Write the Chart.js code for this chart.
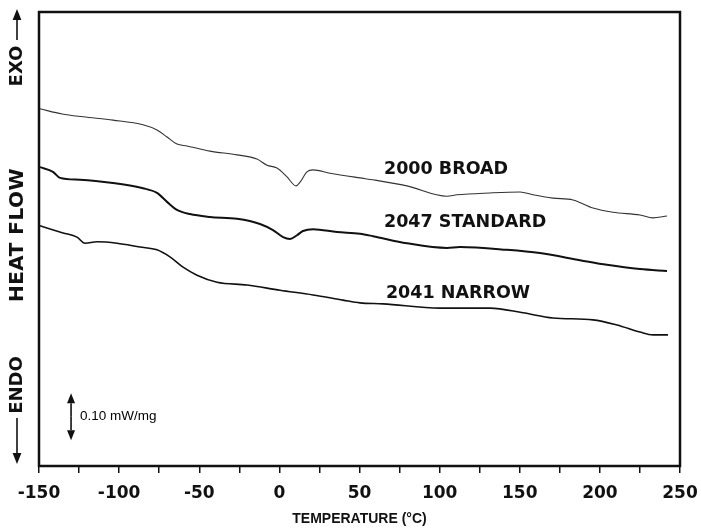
<!DOCTYPE html>
<html>
<head>
<meta charset="utf-8">
<script src="https://cdn.jsdelivr.net/npm/chart.js@4"></script>
<style>
  html, body { margin: 0; padding: 0; background: #fff; }
  canvas { display: block; }
</style>
</head>
<body>
<canvas id="dsc" width="701" height="529"></canvas>
<script>
// DSC traces: temperature in °C, heat flow in mW/mg (baseline offset arbitrary)
const broadT = [-149.4, -135.6, -122.5, -103.8, -85.1, -76.4, -70.1, -63.9, -57.6, -43.3, -26.4, -14.0, -7.7, -1.5, 4.8, 10.4, 12.9, 17.2, 21.0, 31.6, 50.3, 58.4, 79.6, 104.6, 110.8, 131.4, 150.2, 158.3, 170.7, 183.2, 195.7, 208.2, 225.0, 233.1, 241.9];
const broadQ = [0.760, 0.749, 0.743, 0.736, 0.726, 0.715, 0.700, 0.685, 0.681, 0.670, 0.662, 0.653, 0.640, 0.634, 0.615, 0.596, 0.604, 0.626, 0.630, 0.623, 0.613, 0.609, 0.596, 0.574, 0.577, 0.581, 0.583, 0.577, 0.570, 0.566, 0.549, 0.540, 0.534, 0.528, 0.532];

const standardT = [-149.4, -141.3, -136.9, -124.4, -103.8, -85.1, -76.4, -70.1, -63.9, -55.8, -43.3, -26.4, -12.1, -4.0, 2.3, 6.6, 11.0, 14.7, 21.0, 36.0, 50.3, 58.4, 79.6, 104.6, 112.7, 142.0, 162.6, 187.6, 204.4, 225.0, 241.9];
const standardQ = [0.636, 0.626, 0.613, 0.609, 0.602, 0.591, 0.581, 0.562, 0.545, 0.536, 0.530, 0.526, 0.515, 0.502, 0.487, 0.483, 0.491, 0.500, 0.504, 0.498, 0.494, 0.489, 0.474, 0.464, 0.466, 0.460, 0.453, 0.438, 0.428, 0.419, 0.415];

const narrowT = [-149.4, -135.0, -126.3, -121.3, -113.8, -101.3, -87.0, -76.4, -68.3, -60.1, -51.4, -38.9, -20.2, 0.4, 21.0, 39.7, 50.3, 64.7, 100.2, 131.4, 152.0, 170.7, 195.7, 210.7, 225.0, 233.1, 242.5];
const narrowQ = [0.511, 0.496, 0.487, 0.474, 0.477, 0.474, 0.466, 0.460, 0.445, 0.423, 0.406, 0.391, 0.385, 0.374, 0.364, 0.353, 0.347, 0.345, 0.336, 0.336, 0.326, 0.315, 0.311, 0.300, 0.285, 0.279, 0.279];

const seriesNames = ["2000 BROAD", "2047 STANDARD", "2041 NARROW"];
const labelT = [65.3, 65.3, 66.5];
const labelQ = [0.632, 0.519, 0.368];

const tempMin = -150;
const tempMax = 250;
const tempStep = 25;
const tempLabelStep = 50;

// scale bar for 0.10 mW/mg
const barT = -130;
const barQ = [0.055, 0.155];
const barText = "0.10 mW/mg";

const INK = "#111";

function pts(xs, ys) {
  return xs.map((x, i) => ({ x: x, y: ys[i] }));
}

function arrow(ctx, x, yFrom, yTo, head) {
  const dir = yTo > yFrom ? 1 : -1;
  ctx.beginPath();
  ctx.moveTo(x, yFrom);
  ctx.lineTo(x, yTo - dir * head);
  ctx.stroke();
  ctx.beginPath();
  ctx.moveTo(x, yTo);
  ctx.lineTo(x - head * 0.4, yTo - dir * head);
  ctx.lineTo(x + head * 0.4, yTo - dir * head);
  ctx.closePath();
  ctx.fill();
}

function vtext(ctx, text, x, cy) {
  ctx.save();
  ctx.translate(x, cy);
  ctx.rotate(-Math.PI / 2);
  ctx.textAlign = "center";
  ctx.textBaseline = "middle";
  ctx.fillText(text, 0, 0);
  ctx.restore();
}

const decorations = {
  id: "decorations",
  afterDatasetsDraw(chart) {
    const { ctx, chartArea: a, scales: { x, y } } = chart;
    ctx.save();
    ctx.strokeStyle = INK;
    ctx.fillStyle = INK;

    // frame
    ctx.lineWidth = 2.5;
    ctx.strokeRect(a.left, a.top, a.right - a.left, a.bottom - a.top);

    // curve names
    ctx.font = 'bold 17.5px "DejaVu Sans"';
    ctx.textAlign = "left";
    ctx.textBaseline = "middle";
    seriesNames.forEach((name, i) => {
      ctx.fillText(name, x.getPixelForValue(labelT[i]), y.getPixelForValue(labelQ[i]));
    });

    // scale bar
    const bx = x.getPixelForValue(barT);
    const b0 = y.getPixelForValue(barQ[0]);
    const b1 = y.getPixelForValue(barQ[1]);
    const mid = (b0 + b1) / 2;
    ctx.lineWidth = 1.6;
    arrow(ctx, bx, mid, b1, 10);
    arrow(ctx, bx, mid, b0, 10);
    ctx.fillStyle = "#000";
    ctx.font = '13.5px "Liberation Sans"';
    ctx.textBaseline = "middle";
    ctx.fillText(barText, bx + 9, mid);
    ctx.fillStyle = INK;

    // vertical axis caption with EXO / ENDO arrows
    const cx = 17;
    ctx.font = 'bold 18px "DejaVu Sans"';
    vtext(ctx, "EXO", cx, 66);
    vtext(ctx, "ENDO", cx, 385);
    ctx.letterSpacing = "0.5px";
    ctx.font = 'bold 20px "DejaVu Sans"';
    vtext(ctx, "HEAT FLOW", cx + 1, 235);
    ctx.letterSpacing = "0px";
    ctx.lineWidth = 1.6;
    arrow(ctx, cx, 40, 9, 11);
    arrow(ctx, cx, 418, 464, 11);

    ctx.restore();
  }
};

new Chart(document.getElementById("dsc"), {
  type: "line",
  data: {
    datasets: [
      { label: seriesNames[0], data: pts(broadT, broadQ), borderColor: "#333", borderWidth: 1.1 },
      { label: seriesNames[1], data: pts(standardT, standardQ), borderColor: INK, borderWidth: 2 },
      { label: seriesNames[2], data: pts(narrowT, narrowQ), borderColor: INK, borderWidth: 1.6 }
    ]
  },
  plugins: [decorations],
  options: {
    responsive: false,
    animation: false,
    events: [],
    parsing: false,
    elements: {
      point: { radius: 0 },
      line: { cubicInterpolationMode: "monotone", fill: false }
    },
    layout: { padding: { left: 39, right: 21, top: 12, bottom: 0 } },
    plugins: {
      legend: { display: false },
      tooltip: { enabled: false }
    },
    scales: {
      x: {
        type: "linear",
        min: tempMin,
        max: tempMax,
        border: { display: false },
        grid: {
          drawOnChartArea: false,
          drawTicks: true,
          tickLength: 7,
          color: INK,
          lineWidth: 1.5
        },
        ticks: {
          stepSize: tempStep,
          autoSkip: false,
          maxRotation: 0,
          padding: 10,
          color: INK,
          font: { family: "DejaVu Sans", weight: "bold", size: 17 },
          callback: (v) => (v % tempLabelStep === 0 ? String(v) : "")
        },
        title: {
          display: true,
          text: "TEMPERATURE (°C)",
          color: INK,
          font: { family: "Liberation Sans", weight: "bold", size: 14 },
          padding: { top: 0, bottom: 1 }
        },
        afterFit: (axis) => {
          // keep the plot frame fixed; edge labels may hang into the margin
          axis.height = 63;
          axis.paddingLeft = 0;
          axis.paddingRight = 0;
        }
      },
      y: {
        type: "linear",
        display: false,
        min: 0,
        max: 0.966
      }
    }
  }
});
</script>
</body>
</html>
